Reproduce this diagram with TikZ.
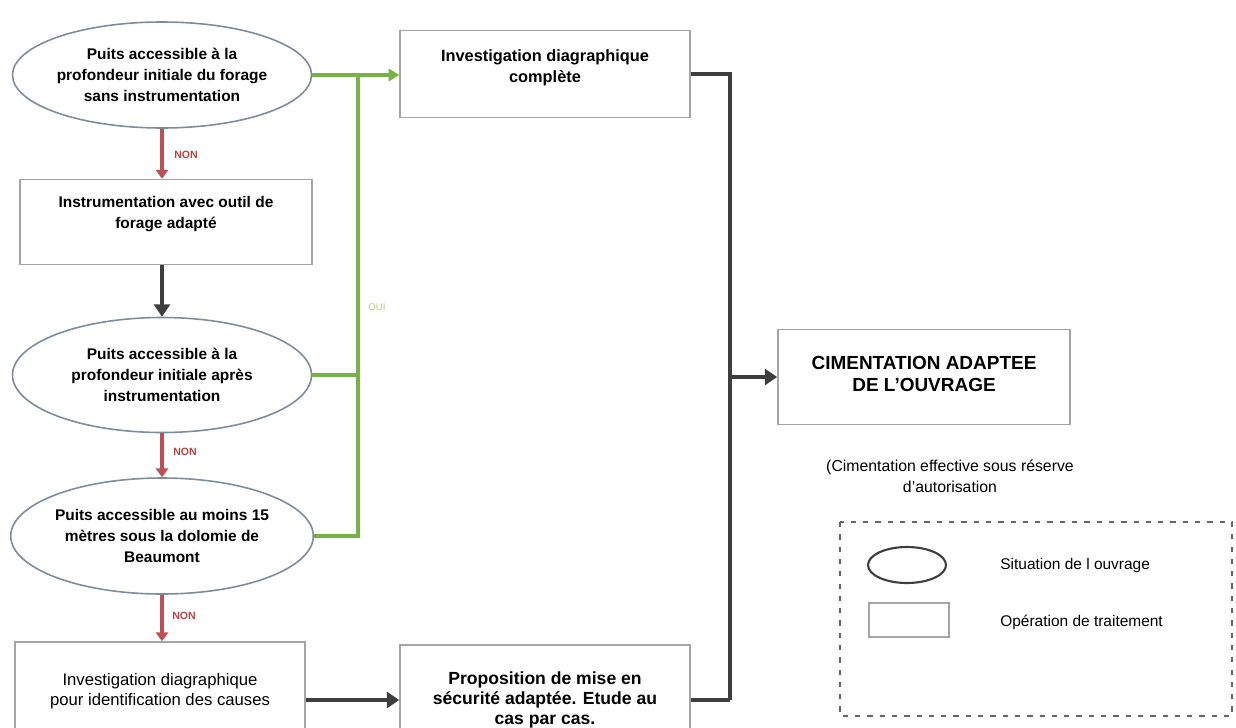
\documentclass[tikz,border=0pt]{standalone}
\usepackage{fontspec}
\setmainfont{Liberation Sans}
\usetikzlibrary{shapes.geometric,arrows.meta}
\newdimen\pxu
\pxu=0.02cm
\definecolor{ellgray}{RGB}{125,140,155}
\definecolor{boxgray}{RGB}{165,165,165}
\definecolor{grn}{RGB}{118,178,70}
\definecolor{redarr}{RGB}{190,80,85}
\definecolor{darkarr}{RGB}{62,62,62}
\definecolor{nonred}{RGB}{175,70,70}
\definecolor{ouigreen}{RGB}{185,205,120}
\tikzset{
  sit/.style={ellipse, draw=ellgray, line width=0.9pt, inner sep=0pt, align=center,
    font=\bfseries\fontsize{8.8}{11.8}\selectfont},
  opbox/.style={rectangle, draw=boxgray, line width=0.9pt, inner sep=0pt},
  btxt/.style={align=center, font=\bfseries\fontsize{8.8}{11.8}\selectfont, inner sep=0pt},
  redline/.style={draw=redarr, line width=2.2pt, -{Triangle[width=7pt,length=5pt]}},
  darkline/.style={draw=darkarr, line width=2.6pt},
  darkarrow/.style={darkline, -{Triangle[width=9pt,length=7pt]}},
  grnline/.style={draw=grn, line width=2pt},
  nonlbl/.style={font=\bfseries\fontsize{6}{7}\selectfont, text=nonred, inner sep=0pt},
  plain/.style={align=center, font=\fontsize{9}{12}\selectfont, inner sep=0pt}
}
\begin{document}
\begin{tikzpicture}[x=0.02cm,y=-0.02cm]
\useasboundingbox (0,0) rectangle (1236,727);
\clip (0,0) rectangle (1236,727);
\fill[white] (0,0) rectangle (1236,727);

% situation ellipses
\node[sit, minimum width=299\pxu, minimum height=106\pxu] (e1) at (162,75)
  {Puits accessible à la\\profondeur initiale du forage\\sans instrumentation};
\node[sit, minimum width=299\pxu, minimum height=115\pxu] (e2) at (162,375)
  {Puits accessible à la\\profondeur initiale après\\instrumentation};
\node[sit, minimum width=297\pxu, minimum height=116\pxu] (e3) at (162,536)
  {Puits accessible au moins 15\\mètres sous la dolomie de\\Beaumont};

% operation boxes
\node[opbox, minimum width=292\pxu, minimum height=85\pxu] (b2) at (166,222) {};
\node[btxt] (b2t) at (166,214) {Instrumentation avec outil de\\forage adapté};
\node[opbox, minimum width=290\pxu, minimum height=87\pxu] (b1) at (545,74) {};
\node[btxt, font=\bfseries\fontsize{9.3}{12}\selectfont] (b1t) at (545,68) {Investigation diagraphique\\complète};
\node[opbox, minimum width=290\pxu, minimum height=116\pxu] (b4) at (160,700) {};
\node[btxt, font=\fontsize{9.5}{11.5}\selectfont] (b4t) at (160,691) {Investigation diagraphique\\pour identification des causes};
\node[opbox, minimum width=290\pxu, minimum height=110\pxu] (b5) at (545,700) {};
\node[btxt, font=\bfseries\fontsize{10}{11.6}\selectfont] (b5t) at (545,700) {Proposition de mise en\\sécurité adaptée. Etude au\\cas par cas.};
\node[opbox, minimum width=292\pxu, minimum height=95\pxu] (cim) at (924,377) {};
\node[btxt, font=\bfseries\fontsize{10.8}{12.5}\selectfont] (cimt) at (924,374) {CIMENTATION ADAPTEE\\DE L'OUVRAGE};

% note
\node[plain] (note) at (950,476) {(Cimentation effective sous réserve\\d'autorisation};

% red NON arrows
\draw[redline] (e1.south) -- (e1.south |- b2.north);
\draw[redline] (e2.south) -- (e3.north);
\draw[redline] (e3.south) -- (e3.south |- b4.north);
\node[nonlbl] (n1) at (186,155) {NON};
\node[nonlbl] (n2) at (185,452) {NON};
\node[nonlbl] (n3) at (184,616) {NON};

% dark arrow b2 -> e2
\draw[darkarrow] (b2.south -| e2.north) -- (e2.north);

% green OUI connectors
\coordinate (jx) at (358,75);
\draw[grnline] (e3.east) -| (jx);
\draw[grnline] (e2.east) -- (e2.east -| jx);
\draw[grnline, -{Triangle[width=7pt,length=6pt]}] (e1.east) -- (e1.east -| b1.west);
\node[font=\fontsize{5.5}{6}\selectfont, text=ouigreen, inner sep=0pt] (oui) at (377,307) {OUI};

% dark connectors to cimentation
\coordinate (jd) at (730,700);
\draw[darkline] (b1.east) -| (jd);
\draw[darkline] (b5.east) -- (jd);
\draw[darkarrow] (cim.west -| jd) -- (cim.west);
\draw[darkarrow] (b4.east) -- (b5.west);

% legend
\draw[dashed, dash pattern=on 3pt off 4pt, draw=darkarr!80, line width=0.8pt] (840,522) rectangle (1232,716);
\node[ellipse, draw=darkarr, line width=1.2pt, minimum width=78\pxu, minimum height=36\pxu, inner sep=0pt] (le) at (907,565) {};
\node[rectangle, draw=boxgray, line width=1.4pt, minimum width=80\pxu, minimum height=34\pxu, inner sep=0pt] (lr) at (909,620) {};
\node[plain, font=\fontsize{8.8}{11}\selectfont, anchor=west] (let) at (1000,565) {Situation de l ouvrage};
\node[plain, font=\fontsize{8.8}{11}\selectfont, anchor=west] (lrt) at (1000,622) {Opération de traitement};
\end{tikzpicture}
\end{document}
